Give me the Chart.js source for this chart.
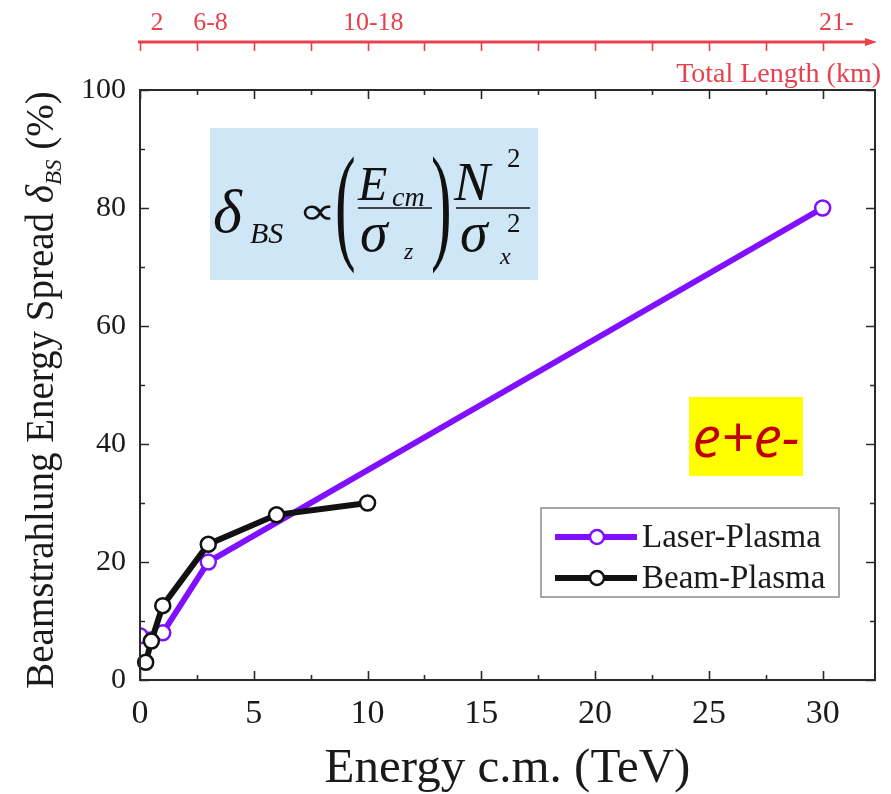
<!DOCTYPE html>
<html>
<head>
<meta charset="utf-8">
<script src="https://cdn.jsdelivr.net/npm/chart.js@4.4.1/dist/chart.umd.min.js"></script>
<style>
  html, body { margin: 0; padding: 0; background: #ffffff; }
  canvas { display: block; }
</style>
</head>
<body>
<canvas id="c" width="891" height="794"></canvas>
<script>
// Centre-of-mass energy (TeV) and beamstrahlung energy spread (%)
const laserEnergy = [0, 1, 3, 30];
const laserSpread = [7.5, 8, 20, 80];
const beamEnergy = [0.25, 0.5, 1, 3, 6, 10];
const beamSpread = [3, 6.6, 12.6, 23, 28, 30];

const seriesNames = ['Laser-Plasma', 'Beam-Plasma'];

// Energy axis tick values (TeV)
const energyTicks = [0, 5, 10, 15, 20, 25, 30];

// Total collider length labels (km) along the upper axis, placed at energies (TeV)
const lengthLabels = ['2', '6-8', '10-18', '21-'];
const lengthLabelAt = [0.75, 3.1, 10.25, 30.6];

const SERIF = '"Liberation Serif", "Times New Roman", serif';
const PURPLE = '#8010ff';
const RED = '#e8404c';

function pts(xs, ys) { return xs.map((x, i) => ({ x: x, y: ys[i] })); }

const decorations = {
  id: 'decorations',
  afterDatasetsDraw(chart) {
    const ctx = chart.ctx;
    const a = chart.chartArea;
    const xs = chart.scales.x, ys = chart.scales.y;
    ctx.save();

    // frame
    ctx.strokeStyle = '#2a2a2a';
    ctx.lineWidth = 2;
    ctx.strokeRect(a.left, a.top, a.right - a.left, a.bottom - a.top);

    // inward ticks on all four sides
    ctx.lineWidth = 1.6;
    ctx.beginPath();
    const xMajor = xs.ticks.map(t => t.value);
    const xStep = xMajor[1] - xMajor[0];
    xMajor.forEach(v => {
      const p = Math.round(xs.getPixelForValue(v)) + 0.5;
      ctx.moveTo(p, a.bottom); ctx.lineTo(p, a.bottom - 9);
      ctx.moveTo(p, a.top); ctx.lineTo(p, a.top + 9);
      const m = v + xStep / 2;
      if (m < xs.max) {
        const q = Math.round(xs.getPixelForValue(m)) + 0.5;
        ctx.moveTo(q, a.bottom); ctx.lineTo(q, a.bottom - 5);
        ctx.moveTo(q, a.top); ctx.lineTo(q, a.top + 5);
      }
    });
    const yMajor = ys.ticks.map(t => t.value);
    const yStep = yMajor[1] - yMajor[0];
    yMajor.forEach(v => {
      const p = Math.round(ys.getPixelForValue(v)) + 0.5;
      ctx.moveTo(a.left, p); ctx.lineTo(a.left + 9, p);
      ctx.moveTo(a.right, p); ctx.lineTo(a.right - 9, p);
      const m = v + yStep / 2;
      if (m < ys.max) {
        const q = Math.round(ys.getPixelForValue(m)) + 0.5;
        ctx.moveTo(a.left, q); ctx.lineTo(a.left + 5, q);
        ctx.moveTo(a.right, q); ctx.lineTo(a.right - 5, q);
      }
    });
    ctx.stroke();

    // upper axis: total length
    const axY = 42;
    ctx.strokeStyle = RED;
    ctx.fillStyle = RED;
    ctx.lineWidth = 3;
    ctx.beginPath();
    ctx.moveTo(a.left - 2, axY); ctx.lineTo(a.right - 6, axY);
    ctx.stroke();
    ctx.beginPath();
    ctx.moveTo(a.right + 2, axY); ctx.lineTo(a.right - 10, axY - 4); ctx.lineTo(a.right - 10, axY + 4);
    ctx.closePath(); ctx.fill();
    ctx.lineWidth = 1.6;
    ctx.beginPath();
    for (let v = 0; v <= 30; v += xStep / 2) {
      const p = Math.round(xs.getPixelForValue(v)) + 0.5;
      ctx.moveTo(p, axY); ctx.lineTo(p, axY + 9);
    }
    ctx.stroke();
    ctx.font = '26px ' + SERIF;
    ctx.textAlign = 'center';
    ctx.textBaseline = 'alphabetic';
    lengthLabels.forEach((t, i) => ctx.fillText(t, xs.getPixelForValue(lengthLabelAt[i]), 30));
    ctx.font = '28px ' + SERIF;
    ctx.textAlign = 'right';
    ctx.fillText('Total Length (km)', 881, 82);

    // y-axis title with subscript
    ctx.save();
    ctx.translate(53, 390);
    ctx.rotate(-Math.PI / 2);
    ctx.fillStyle = '#1a1a1a';
    ctx.textBaseline = 'alphabetic';
    ctx.textAlign = 'left';
    const parts = [
      { t: 'Beamstrahlung Energy Spread ', f: '39px ' + SERIF, dy: 0 },
      { t: 'δ', f: 'italic 39px ' + SERIF, dy: 0 },
      { t: 'BS', f: 'italic 23px ' + SERIF, dy: 8 },
      { t: ' (%)', f: '39px ' + SERIF, dy: 0 }
    ];
    let total = 0;
    parts.forEach(p => { ctx.font = p.f; p.w = ctx.measureText(p.t).width; total += p.w; });
    let cx = -total / 2;
    parts.forEach(p => { ctx.font = p.f; ctx.fillText(p.t, cx, p.dy); cx += p.w; });
    ctx.restore();

    // formula panel
    ctx.fillStyle = '#cfe6f6';
    ctx.fillRect(210, 128, 328, 152);
    ctx.fillStyle = '#111';
    ctx.textAlign = 'left';
    const txt = (s, f, x, y) => { ctx.font = f + ' ' + SERIF; ctx.fillText(s, x, y); };
    txt('δ', 'italic 62px', 213, 232);
    txt('BS', 'italic 30px', 250, 243);
    ctx.save();
    ctx.translate(298, 224);
    ctx.scale(1.4, 1);
    txt('∝', '38px', 0, 0);
    ctx.restore();
    const paren = (s, x) => {
      ctx.save();
      ctx.translate(x, 246);
      ctx.scale(1, 2.1);
      ctx.font = '62px ' + SERIF;
      ctx.fillText(s, 0, 0);
      ctx.restore();
    };
    paren('(', 335);
    paren(')', 431);
    txt('E', 'italic 48px', 358, 200);
    txt('cm', 'italic 28px', 392, 206);
    txt('σ', 'italic 56px', 360, 251);
    txt('z', 'italic 24px', 404, 259);
    txt('N', 'italic 54px', 454, 200);
    txt('2', '27px', 507, 167);
    txt('σ', 'italic 56px', 460, 251);
    txt('x', 'italic 24px', 500, 264);
    txt('2', '27px', 507, 232);
    ctx.strokeStyle = '#111';
    ctx.lineWidth = 1.6;
    ctx.beginPath();
    ctx.moveTo(358, 208); ctx.lineTo(432, 208);
    ctx.moveTo(456, 208); ctx.lineTo(530, 208);
    ctx.stroke();

    // collision type tag
    ctx.fillStyle = '#ffff00';
    ctx.fillRect(689, 397, 114, 79);
    ctx.fillStyle = '#c00000';
    ctx.font = 'italic 57px "Open Sans", "Noto Sans", sans-serif';
    ctx.textAlign = 'center';
    ctx.fillText('e+e-', 746, 457);

    // legend
    ctx.fillStyle = '#ffffff';
    ctx.fillRect(541, 508, 298, 89);
    ctx.strokeStyle = '#8a8a8a';
    ctx.lineWidth = 1.5;
    ctx.strokeRect(541, 508, 298, 89);
    chart.data.datasets.forEach((ds, i) => {
      const ly = 537 + i * 41;
      ctx.strokeStyle = ds.borderColor;
      ctx.lineWidth = 6;
      ctx.beginPath();
      ctx.moveTo(555, ly); ctx.lineTo(637, ly);
      ctx.stroke();
      ctx.beginPath();
      ctx.arc(597, ly, 7, 0, Math.PI * 2);
      ctx.fillStyle = '#ffffff';
      ctx.fill();
      ctx.lineWidth = 2.5;
      ctx.strokeStyle = ds.pointBorderColor;
      ctx.stroke();
      ctx.fillStyle = '#1a1a1a';
      ctx.font = '33px ' + SERIF;
      ctx.textAlign = 'left';
      ctx.textBaseline = 'middle';
      ctx.fillText(ds.label, 642, ly + 1);
    });

    ctx.restore();
  }
};

new Chart(document.getElementById('c'), {
  type: 'line',
  data: {
    datasets: [
      {
        label: seriesNames[0],
        data: pts(laserEnergy, laserSpread),
        borderColor: PURPLE,
        pointBorderColor: PURPLE,
        pointBackgroundColor: '#ffffff',
        borderWidth: 6,
        pointRadius: 7.5,
        pointBorderWidth: 2.5,
        tension: 0,
        order: 2,
        clip: { left: 0, top: false, right: false, bottom: false }
      },
      {
        label: seriesNames[1],
        data: pts(beamEnergy, beamSpread),
        borderColor: '#111111',
        pointBorderColor: '#111111',
        pointBackgroundColor: '#ffffff',
        borderWidth: 6,
        pointRadius: 7.5,
        pointBorderWidth: 2.5,
        tension: 0,
        order: 1,
        clip: false
      }
    ]
  },
  options: {
    responsive: false,
    animation: false,
    devicePixelRatio: 1,
    layout: { padding: { top: 90, right: 16, left: 0, bottom: 0 } },
    plugins: {
      legend: { display: false },
      tooltip: { enabled: false }
    },
    scales: {
      x: {
        type: 'linear',
        min: 0,
        max: 32.3,
        afterBuildTicks: s => { s.ticks = energyTicks.map(v => ({ value: v })); },
        afterFit: s => { s.height = 114; },
        grid: { display: false, drawTicks: false },
        border: { display: false },
        ticks: {
          padding: 14,
          color: '#1a1a1a',
          font: { family: SERIF, size: 34 }
        },
        title: {
          display: true,
          text: 'Energy c.m. (TeV)',
          color: '#1a1a1a',
          font: { family: SERIF, size: 49, lineHeight: 1 },
          padding: { top: 0, bottom: 0 }
        }
      },
      y: {
        type: 'linear',
        min: 0,
        max: 100,
        afterFit: s => { s.width = 140; },
        grid: { display: false, drawTicks: false },
        border: { display: false },
        ticks: {
          stepSize: 20,
          padding: 14,
          color: '#1a1a1a',
          font: { family: SERIF, size: 30 }
        }
      }
    }
  },
  plugins: [decorations]
});
</script>
</body>
</html>
